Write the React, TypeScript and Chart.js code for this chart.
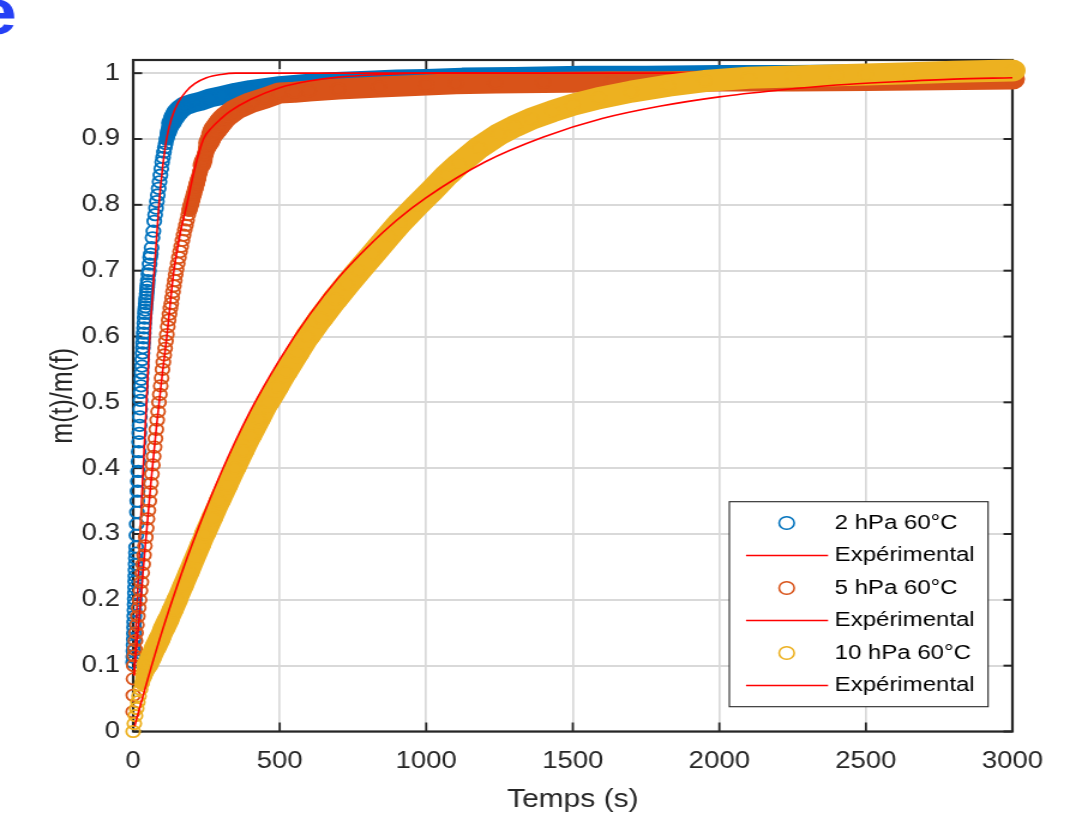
import { useEffect, useRef } from "react";
import { Chart, registerables } from "chart.js";

Chart.register(...registerables);

// ---------- text / ticks ----------
const X_TICKS = [0, 500, 1000, 1500, 2000, 2500, 3000];
const Y_TICKS = [0, 0.1, 0.2, 0.3, 0.4, 0.5, 0.6, 0.7, 0.8, 0.9, 1];
const X_TITLE = "Temps (s)";
const Y_TITLE = "m(t)/m(f)";
const SERIES_LABELS = ["2 hPa 60°C", "5 hPa 60°C", "10 hPa 60°C"];
const FIT_LABEL = "Expérimental";

// ---------- 2 hPa 60°C (measured) ----------
const blueT = [0, 0.5, 1, 1.5, 2, 2.5, 3, 3.5, 4, 4.5, 5, 5.5, 6, 6.5, 7, 7.5, 8, 8.5, 9, 9.5, 10,
  11, 12, 13, 14, 15, 16, 17, 18, 19, 20, 21, 22, 23, 24, 25, 26, 27, 28, 29, 30,
  31, 32, 33, 34, 35, 36, 37, 38, 39, 40, 41, 42, 43, 44, 45, 46, 47, 48, 49, 50,
  52, 54, 56, 58, 60, 63, 66, 69, 72, 75, 78, 81, 84, 87, 90, 93, 96, 99, 102, 105, 108, 111, 114, 117, 120,
  125, 130, 140, 150, 160, 175, 200, 228, 260, 300, 350, 400, 450, 500, 580, 670, 780, 900, 1000, 1123,
  1300, 1531, 1750, 2000, 2250, 2500, 2750, 3000];
const blueV = [0.105, 0.113, 0.122, 0.131, 0.14, 0.149, 0.158, 0.166, 0.175, 0.184, 0.193, 0.201, 0.21, 0.219, 0.228, 0.236, 0.245, 0.254, 0.263, 0.271, 0.28,
  0.298, 0.315, 0.333, 0.35, 0.365, 0.38, 0.395, 0.41, 0.425, 0.44, 0.453, 0.465, 0.478, 0.49, 0.503, 0.515, 0.525, 0.535, 0.545, 0.555,
  0.565, 0.575, 0.583, 0.59, 0.598, 0.605, 0.613, 0.62, 0.628, 0.635, 0.64, 0.645, 0.65, 0.655, 0.66, 0.665, 0.67, 0.675, 0.68, 0.685,
  0.695, 0.7, 0.71, 0.72, 0.725, 0.735, 0.75, 0.76, 0.775, 0.785, 0.795, 0.805, 0.815, 0.825, 0.835, 0.845, 0.855, 0.865, 0.872, 0.88, 0.887, 0.893, 0.9, 0.905, 0.91,
  0.917, 0.924, 0.933, 0.94, 0.945, 0.95, 0.954, 0.957, 0.962, 0.966, 0.971, 0.975, 0.978, 0.981, 0.984, 0.987, 0.989, 0.991, 0.992, 0.994,
  0.995, 0.997, 0.997, 0.998, 0.998, 0.999, 0.999, 1.0];

// ---------- 5 hPa 60°C (measured) ----------
const orangeT = [0, 0.5, 1, 2, 4, 6, 8, 10,
  13, 16, 19, 22, 25, 28, 31, 34, 37, 40, 43, 46, 49, 52, 55, 58, 61, 64, 67, 70, 73, 76, 79, 82, 85, 88,
  91, 94, 97, 100, 103, 106, 109, 112, 115, 118, 121, 124, 127, 130, 133, 136, 139, 142, 145, 148,
  152, 156, 160, 164, 168, 172, 176, 180, 184, 188, 192, 197, 202, 207, 212, 217, 222,
  228, 234, 240, 246, 252, 258, 264, 272, 280, 290, 300, 310, 320, 335, 350, 375, 400,
  450, 500, 550, 600, 700, 840, 1000, 1100, 1237, 1400, 1633, 1800, 2000, 2250, 2500, 2750, 3000];
const orangeV = [0.03, 0.055, 0.08, 0.1, 0.115, 0.125, 0.138, 0.15,
  0.162, 0.175, 0.188, 0.2, 0.214, 0.227, 0.241, 0.254, 0.268, 0.282, 0.295, 0.309, 0.323, 0.336, 0.35, 0.364, 0.377, 0.391, 0.405, 0.418, 0.432, 0.445, 0.459, 0.473, 0.486, 0.5,
  0.512, 0.525, 0.537, 0.55, 0.561, 0.572, 0.582, 0.593, 0.603, 0.615, 0.625, 0.634, 0.643, 0.65, 0.659, 0.668, 0.677, 0.685, 0.694, 0.702,
  0.711, 0.72, 0.729, 0.737, 0.746, 0.754, 0.762, 0.769, 0.777, 0.785, 0.792, 0.8, 0.808, 0.816, 0.824, 0.832, 0.84,
  0.85, 0.86, 0.868, 0.877, 0.886, 0.894, 0.9, 0.908, 0.914, 0.92, 0.926, 0.931, 0.935, 0.94, 0.945, 0.95, 0.955,
  0.962, 0.97, 0.971, 0.973, 0.976, 0.979, 0.982, 0.984, 0.985, 0.986, 0.987, 0.987, 0.988, 0.988, 0.989, 0.99, 0.991];

// ---------- 10 hPa 60°C (measured) ----------
const yellowT = [0, 4, 8, 12, 16, 20, 25, 30, 36, 42, 48, 60, 75, 90, 105, 120, 135, 150, 170, 190, 210, 230, 245,
  270, 295, 320, 347, 375, 400, 430, 459, 490, 520, 560, 595, 640, 690, 730, 770, 820, 870, 909, 970, 1020, 1070, 1112,
  1180, 1248, 1300, 1360, 1430, 1500, 1588, 1700, 1827, 1950, 2100, 2250, 2400, 2500, 2650, 2800, 3000];
const yellowV = [0, 0.012, 0.024, 0.035, 0.045, 0.054, 0.064, 0.073, 0.083, 0.092, 0.1, 0.112, 0.127, 0.141, 0.156, 0.17, 0.185, 0.2, 0.221, 0.242, 0.263, 0.284, 0.3,
  0.325, 0.35, 0.374, 0.4, 0.426, 0.449, 0.475, 0.5, 0.523, 0.546, 0.575, 0.6, 0.628, 0.657, 0.679, 0.7, 0.726, 0.752, 0.772, 0.8, 0.822, 0.845, 0.862,
  0.887, 0.907, 0.919, 0.931, 0.942, 0.952, 0.962, 0.972, 0.981, 0.988, 0.993, 0.995, 0.997, 0.998, 1.0, 1.002, 1.004];

// ---------- fitted curves ("Expérimental") ----------
const fit2T = [3, 10, 20, 30, 40, 50, 58, 65, 72, 80, 88, 100, 114, 130, 153, 180, 210, 250, 300, 350, 3000];
const fit2V = [0.085, 0.16, 0.26, 0.36, 0.45, 0.54, 0.61, 0.655, 0.7, 0.75, 0.8, 0.855, 0.9, 0.93, 0.955, 0.972, 0.984, 0.993, 0.998, 1.0, 1.0];
const fit5T = [3, 20, 40, 60, 80, 100, 115, 127, 139, 160, 183, 210, 240, 270, 300, 330, 400, 500, 600, 700, 850, 1000, 3000];
const fit5V = [0.085, 0.17, 0.275, 0.375, 0.465, 0.545, 0.6, 0.652, 0.7, 0.755, 0.8, 0.855, 0.9, 0.918, 0.931, 0.942, 0.96, 0.978, 0.988, 0.994, 0.998, 1.0, 1.0];
const fit10T = [5, 50, 100, 150, 200, 300, 400, 500, 600, 700, 800, 900, 1000, 1200, 1400, 1600, 1800, 2000, 2200, 2400, 2600, 2800, 3000];
const fit10V = [0.008, 0.08, 0.154, 0.221, 0.283, 0.393, 0.487, 0.565, 0.632, 0.689, 0.736, 0.777, 0.811, 0.865, 0.903, 0.931, 0.95, 0.964, 0.974, 0.982, 0.987, 0.991, 0.993];

// ---------- styling ----------
const BLUE = "#0072BD";
const ORANGE = "#D95319";
const YELLOW = "#EDB120";
const RED = "#FF0000";
const AXIS = "#262626";
const FONT = '"Liberation Sans", Arial, Helvetica, sans-serif';

const PAGE_W = 1076;
const PAGE_H = 813;
const CANVAS_W = 897; // drawn narrower, stretched horizontally like the reference

const pts = (t: number[], v: number[]) => t.map((x, i) => ({ x, y: v[i] }));

const steep = (ctx: any) => {
  const dx = Math.abs(ctx.p1.x - ctx.p0.x);
  const dy = Math.abs(ctx.p1.y - ctx.p0.y);
  return dx === 0 ? Infinity : dy / dx;
};

function measured(label: string, t: number[], v: number[], color: string, band: number, order: number) {
  return {
    label,
    legendMarker: true,
    data: pts(t, v),
    showLine: true,
    clip: false,
    order,
    borderColor: color,
    backgroundColor: color,
    borderWidth: band,
    borderCapStyle: "round",
    borderJoinStyle: "round",
    pointRadius: 5.7,
    pointBorderWidth: 1.8,
    pointBorderColor: color,
    pointBackgroundColor: "rgba(0,0,0,0)",
    pointStyle: "circle",
    segment: {
      borderColor: (ctx: any) => (steep(ctx) > 4.5 ? "rgba(0,0,0,0)" : undefined),
      borderWidth: (ctx: any) => {
        const r = steep(ctx);
        if (r > 4.5) return 1;
        if (r <= 1.5) return band;
        return band - ((band - 13) * (r - 1.5)) / 3;
      },
    },
  };
}

function fitted(t: number[], v: number[], order: number) {
  return {
    label: FIT_LABEL,
    legendMarker: false,
    data: pts(t, v),
    showLine: true,
    order,
    borderColor: RED,
    backgroundColor: RED,
    borderWidth: 1.6,
    pointRadius: 0,
    cubicInterpolationMode: "monotone",
  };
}

const framePlugin = {
  id: "matlabFrame",
  beforeDatasetsDraw(chart: any) {
    const { ctx, chartArea: a, scales } = chart;
    const x = scales.x;
    const y = scales.y;
    ctx.save();
    ctx.strokeStyle = AXIS;
    const seg = (x1: number, y1: number, x2: number, y2: number) => {
      ctx.beginPath();
      ctx.moveTo(x1, y1);
      ctx.lineTo(x2, y2);
      ctx.stroke();
    };
    ctx.lineWidth = 1.8;
    for (const v of X_TICKS) {
      const px = x.getPixelForValue(v);
      seg(px, a.bottom, px, a.bottom - 9);
      seg(px, a.top, px, a.top + 9);
    }
    ctx.lineWidth = 2;
    for (const v of Y_TICKS) {
      const py = y.getPixelForValue(v);
      seg(a.left, py, a.left + 7.5, py);
      seg(a.right, py, a.right - 7.5, py);
    }
    ctx.lineWidth = 2.2;
    ctx.strokeRect(a.left, a.top, a.right - a.left, a.bottom - a.top);
    ctx.restore();
  },
  afterDraw(chart: any) {
    const ctx = chart.ctx;
    ctx.save();
    // cropped blue letter at the top-left corner of the figure
    ctx.fillStyle = "#2540f5";
    ctx.font = `bold 64px ${FONT}`;
    ctx.textBaseline = "alphabetic";
    ctx.textAlign = "left";
    ctx.fillText("e", -21.6, 34);

    // legend box
    const L = 608, R = 823.7, T = 501.7, B = 706.7;
    ctx.fillStyle = "#ffffff";
    ctx.fillRect(L, T, R - L, B - T);
    ctx.strokeStyle = AXIS;
    ctx.lineWidth = 1.1;
    ctx.strokeRect(L, T, R - L, B - T);
    chart.data.datasets.forEach((ds: any, i: number) => {
      const cy = 523 + i * 32.5;
      if (ds.legendMarker) {
        ctx.beginPath();
        ctx.arc(655.8, cy, 6.3, 0, Math.PI * 2);
        ctx.strokeStyle = ds.pointBorderColor;
        ctx.lineWidth = 1.6;
        ctx.stroke();
      } else {
        ctx.beginPath();
        ctx.moveTo(621.9, cy);
        ctx.lineTo(690.3, cy);
        ctx.strokeStyle = ds.borderColor;
        ctx.lineWidth = 1.6;
        ctx.stroke();
      }
      ctx.fillStyle = "#000000";
      ctx.font = `20px ${FONT}`;
      ctx.textBaseline = "middle";
      ctx.fillText(ds.label, 695.8, cy);
    });
    ctx.restore();
  },
};

export default function App() {
  const ref = useRef<HTMLCanvasElement | null>(null);

  useEffect(() => {
    const canvas = ref.current;
    if (!canvas) return;
    const datasets: any[] = [
      measured(SERIES_LABELS[0], blueT, blueV, BLUE, 19, 6),
      fitted(fit2T, fit2V, 5),
      measured(SERIES_LABELS[1], orangeT, orangeV, ORANGE, 21, 4),
      fitted(fit5T, fit5V, 3),
      measured(SERIES_LABELS[2], yellowT, yellowV, YELLOW, 22, 2),
      fitted(fit10T, fit10V, 1),
    ];
    const chart = new Chart(canvas, {
      type: "scatter",
      data: { datasets },
      plugins: [framePlugin],
      options: {
        responsive: false,
        animation: false,
        devicePixelRatio: 1,
        events: [],
        layout: { padding: { left: 0, right: 53, top: 60, bottom: 0 } },
        plugins: { legend: { display: false }, tooltip: { enabled: false } },
        scales: {
          x: {
            type: "linear",
            min: 0,
            max: 3000,
            afterBuildTicks: (s: any) => {
              s.ticks = X_TICKS.map((value) => ({ value }));
            },
            afterFit: (s: any) => {
              s.height = 81.5;
            },
            ticks: {
              autoSkip: false,
              maxRotation: 0,
              padding: 16,
              color: AXIS,
              font: { family: FONT, size: 23 },
              callback: (v: any) => String(v),
            },
            grid: { color: "#d9d9d9", lineWidth: 1.7, drawTicks: false },
            border: { display: false },
            title: {
              display: true,
              text: X_TITLE,
              color: AXIS,
              font: { family: FONT, size: 25 },
              padding: { top: 0, bottom: -2 },
            },
          },
          y: {
            type: "linear",
            min: 0,
            max: 1.02,
            afterBuildTicks: (s: any) => {
              s.ticks = Y_TICKS.map((value) => ({ value }));
            },
            afterFit: (s: any) => {
              s.width = 111;
            },
            ticks: {
              autoSkip: false,
              padding: 11,
              color: AXIS,
              font: { family: FONT, size: 23 },
              callback: (v: any) => String(Number(Number(v).toFixed(1))),
            },
            grid: { color: "#d9d9d9", lineWidth: 2, drawTicks: false },
            border: { display: false },
            title: {
              display: true,
              text: Y_TITLE,
              color: AXIS,
              font: { family: FONT, size: 25 },
              padding: { top: 38, bottom: 0 },
            },
          },
        },
      } as any,
    });
    return () => chart.destroy();
  }, []);

  return (
    <div
      style={{
        position: "fixed",
        left: 0,
        top: 0,
        width: PAGE_W,
        height: PAGE_H,
        background: "#ffffff",
        overflow: "hidden",
      }}
    >
      <canvas
        ref={ref}
        width={CANVAS_W}
        height={PAGE_H}
        style={{ width: `${PAGE_W}px`, height: `${PAGE_H}px`, display: "block" }}
      />
    </div>
  );
}
